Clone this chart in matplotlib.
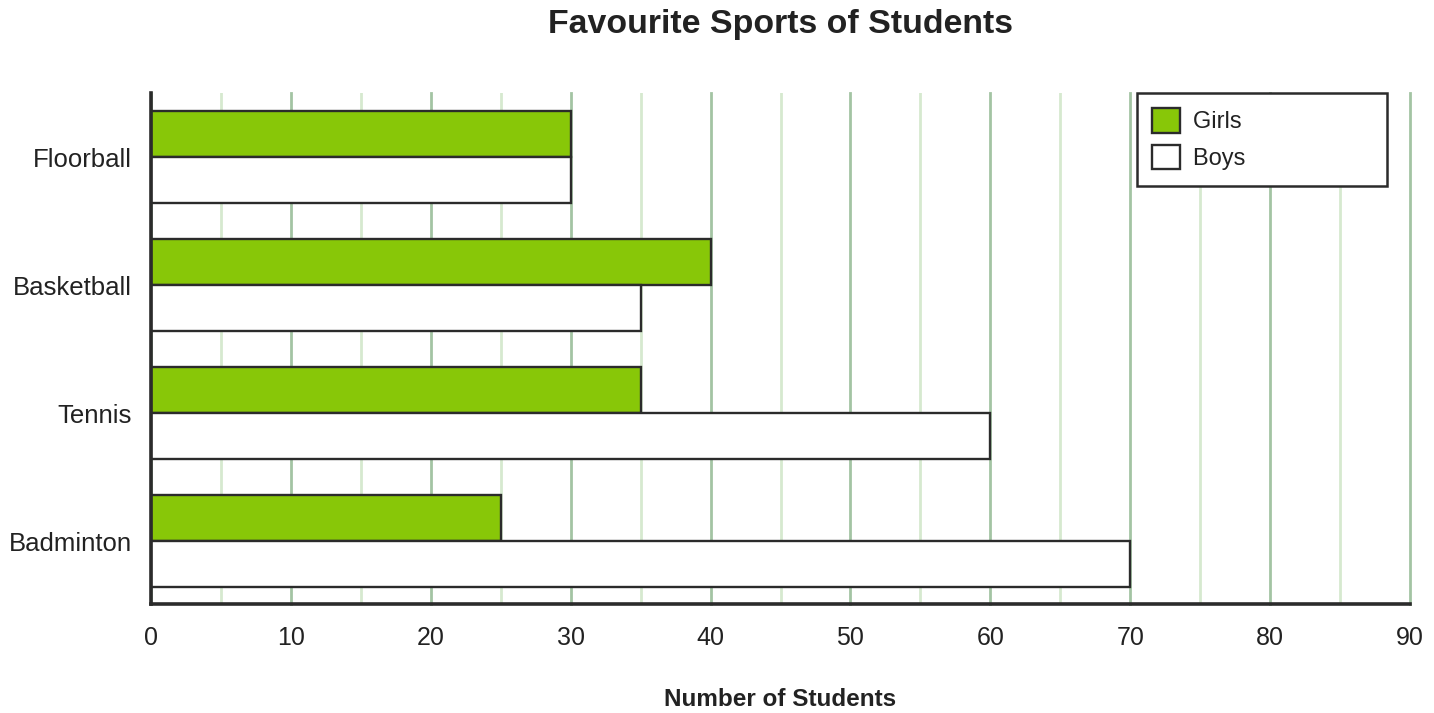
import matplotlib
matplotlib.use('AGG')
import matplotlib.pyplot as plt
from matplotlib.ticker import MultipleLocator

plt.rcParams['font.family'] = ['Liberation Sans', 'DejaVu Sans']

sports = ['Badminton', 'Tennis', 'Basketball', 'Floorball']   # bottom to top
girls = [25, 35, 40, 30]
boys = [70, 60, 35, 30]
x_ticks = [0, 10, 20, 30, 40, 50, 60, 70, 80, 90]

green = '#88c708'
edge = '#2b2b2b'
text_col = '#222222'

fig = plt.figure(figsize=(14.34, 7.13), dpi=100)
ax = fig.add_axes([151 / 1434, 109 / 713, 1259 / 1434, 511 / 713])

h = 0.36
pos = list(range(len(sports)))
ax.barh([p + h / 2 for p in pos], girls, height=h, color=green,
        edgecolor=edge, linewidth=1.7, label='Girls', zorder=3)
ax.barh([p - h / 2 for p in pos], boys, height=h, color='white',
        edgecolor=edge, linewidth=1.7, label='Boys', zorder=3)

ax.set_xlim(0, 90)
ax.set_ylim(-0.49, 3.5)
ax.set_xticks(x_ticks)
ax.xaxis.set_minor_locator(MultipleLocator(5))
ax.set_yticks(pos)
ax.set_yticklabels(sports)

ax.grid(axis='x', which='major', color='#a3c4a3', linewidth=2, zorder=0)
ax.grid(axis='x', which='minor', color='#d6e9cf', linewidth=2, zorder=0)
ax.grid(axis='y', visible=False)
ax.set_axisbelow(True)
for gl in ax.xaxis.get_gridlines():
    gl.set_clip_on(False)

for s in ['top', 'right']:
    ax.spines[s].set_visible(False)
for s in ['left', 'bottom']:
    ax.spines[s].set_linewidth(2.6)
    ax.spines[s].set_color(edge)
    ax.spines[s].set_zorder(4)

ax.tick_params(axis='x', which='both', length=0, pad=16, labelsize=18, labelcolor=text_col)
ax.tick_params(axis='y', length=0, pad=14, labelsize=18.5, labelcolor=text_col)

ax.set_xlabel('Number of Students', fontsize=17.5, fontweight='bold',
              color=text_col, labelpad=27)
ax.set_title('Favourite Sports of Students', fontsize=24.4, fontweight='bold',
             color=text_col, pad=43)

leg = ax.legend(loc='upper right', bbox_to_anchor=(1387 / 1434, 1 - 93 / 713),
                bbox_transform=fig.transFigure, fontsize=17, frameon=True,
                fancybox=False, framealpha=1, handlelength=1.2, handleheight=1.2,
                handletextpad=0.55, borderpad=0.65, labelspacing=0.5,
                borderaxespad=0)
leg.get_frame().set_edgecolor(edge)
leg.get_frame().set_linewidth(1.8)
for t in leg.get_texts():
    t.set_color(text_col)
    t.set_text(t.get_text() + '                   ')

fig.savefig('out.png', dpi=100)
